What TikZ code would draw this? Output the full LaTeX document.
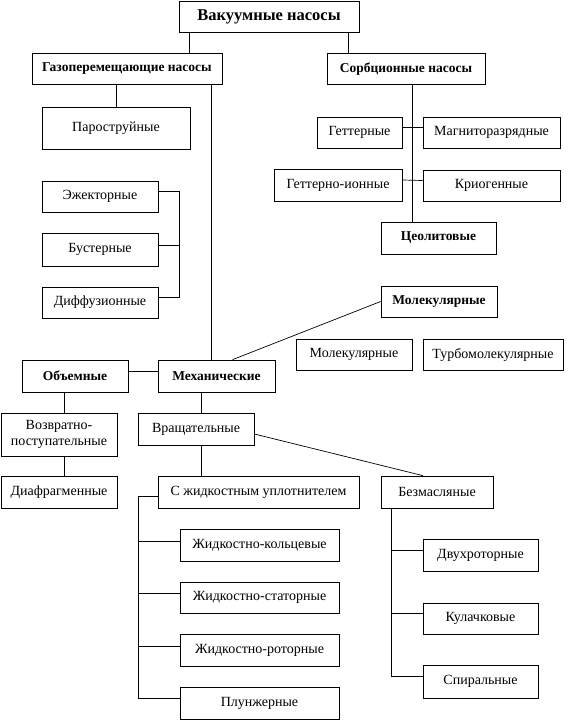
\documentclass[tikz,border=0pt]{standalone}
\usepackage{fontspec}
\setmainfont{Liberation Serif}
\usetikzlibrary{calc}

\begin{document}
\begin{tikzpicture}[
        x=1pt,
        y=-1pt,
        box/.style={draw, line width=0.7pt, fill=white, inner sep=1pt, minimum height=31pt,
                    font=\fontsize{14}{15.5}\selectfont, align=center},
        head/.style={box, font=\fontsize{13.5}{15}\selectfont\bfseries},
        link/.style={line width=0.7pt}
    ]
        \useasboundingbox (0,0) rectangle (572,720);

        \node[head, minimum width=180pt, font=\fontsize{16.5}{18}\selectfont\bfseries] (vak) at (269,16.5) {Вакуумные насосы};
        \node[head, minimum width=190pt] (gaz) at (127,69) {Газоперемещающие насосы};
        \node[head, minimum width=158pt] (sorb) at (406,69) {Сорбционные насосы};

        \node[box, minimum width=148pt, minimum height=42pt] (par) at (116,128) {Пароструйные};
        \node[box, minimum width=116pt] (ezh) at (100,196.5) {Эжекторные};
        \node[box, minimum width=116pt, minimum height=33pt] (bust) at (100,249.5) {Бустерные};
        \node[box, minimum width=116pt] (dif) at (100,302.5) {Диффузионные};

        \node[box, minimum width=85pt] (get) at (359.5,132.5) {Геттерные};
        \node[box, minimum width=137pt] (mag) at (491.5,132.5) {Магниторазрядные};
        \node[box, minimum width=128pt, minimum height=32pt] (geti) at (338,185) {Геттерно-ионные};
        \node[box, minimum width=137pt] (krio) at (491.5,185.5) {Криогенные};
        \node[head, minimum width=115pt, minimum height=32pt] (ceol) at (438.5,238) {Цеолитовые};

        \node[head, minimum width=116pt] (molb) at (439,301.5) {Молекулярные};
        \node[box, minimum width=116pt] (mol) at (354,354.5) {Молекулярные};
        \node[box, minimum width=140pt] (turbo) at (493,354.5) {Турбомолекулярные};

        \node[head, minimum width=106pt, minimum height=32pt] (obem) at (75,376) {Объемные};
        \node[head, minimum width=117pt, minimum height=32pt] (meh) at (216.5,376) {Механические};
        \node[box, minimum width=116pt, minimum height=43pt] (vozv) at (59,434.5) {Возвратно-\\поступательные};
        \node[box, minimum width=116pt, minimum height=32pt] (diaf) at (59,492) {Диафрагменные};
        \node[box, minimum width=116pt, minimum height=32pt] (vrash) at (196,429) {Вращательные};

        \node[box, minimum width=201pt, minimum height=32pt] (szh) at (258.5,492) {С жидкостным уплотнителем};
        \node[box, minimum width=112pt, minimum height=32pt] (bezm) at (437,492) {Безмасляные};

        \node[box, minimum width=159pt, minimum height=32pt] (zhk) at (259.5,545) {Жидкостно-кольцевые};
        \node[box, minimum width=159pt] (zhs) at (259.5,597.5) {Жидкостно-статорные};
        \node[box, minimum width=159pt, minimum height=32pt] (zhr) at (259.5,650) {Жидкостно-роторные};
        \node[box, minimum width=159pt, minimum height=32pt] (plun) at (259.5,703) {Плунжерные};

        \node[box, minimum width=115pt, minimum height=32pt] (dvuh) at (480.5,555) {Двухроторные};
        \node[box, minimum width=115pt] (kul) at (480.5,618.5) {Кулачковые};
        \node[box, minimum width=115pt, minimum height=33pt] (spir) at (480.5,681.5) {Спиральные};

        \draw[link] ([xshift=11pt]vak.south west) -- ([xshift=11pt]vak.south west |- gaz.north);
        \draw[link] ([xshift=-11pt]vak.south east) -- ([xshift=-11pt]vak.south east |- sorb.north);
        \draw[link] (par.north |- gaz.south) -- (par.north);
        \draw[link] ([xshift=-11pt]gaz.south east) -- ([xshift=-11pt]gaz.south east |- meh.north);

        \draw[link] ([yshift=5pt]ezh.east) -- ++(21,0) coordinate (br1) |- ([yshift=5pt]dif.east);
        \draw[link] ([yshift=4pt]bust.east) -- ([yshift=4pt]bust.east -| br1);

        \draw[link] ([xshift=6pt]sorb.south) -- ([xshift=6pt]sorb.south |- ceol.north);
        \draw[link] ([yshift=5pt]get.east) -- ([yshift=5pt]mag.west);
        \draw[link] ([yshift=5pt]geti.east) -- ([yshift=5pt]krio.west);

        \draw[link] ([xshift=16pt]meh.north) -- (molb.west);
        \draw[link] ([yshift=5pt]obem.east) -- ([yshift=5pt]meh.west);
        \draw[link] ([xshift=5pt]vozv.north |- obem.south) -- ([xshift=5pt]vozv.north);
        \draw[link] ([xshift=5pt]vozv.south) -- ([xshift=5pt]diaf.north);
        \draw[link] ([xshift=5pt]vrash.north |- meh.south) -- ([xshift=5pt]vrash.north);
        \draw[link] ([xshift=5pt]vrash.south) -- ([xshift=5pt]vrash.south |- szh.north);
        \draw[link] ([yshift=-5pt]vrash.east) -- ([xshift=-14pt]bezm.north);

        \draw[link] ([yshift=-4pt]szh.west) -| ([xshift=-41pt, yshift=5pt]plun.west) -- ([yshift=5pt]plun.west);
        \foreach \n in {zhk,zhs,zhr}
            \draw[link] ([yshift=4pt]\n.west) -- ++(-41,0);

        \draw[link] ([xshift=11pt]bezm.south west) |- ([yshift=5pt]spir.west);
        \foreach \n in {dvuh,kul}
            \draw[link] ([yshift=5pt]\n.west) -- ([xshift=11pt, yshift=5pt]bezm.south west |- \n.west);
\end{tikzpicture}
\end{document}
